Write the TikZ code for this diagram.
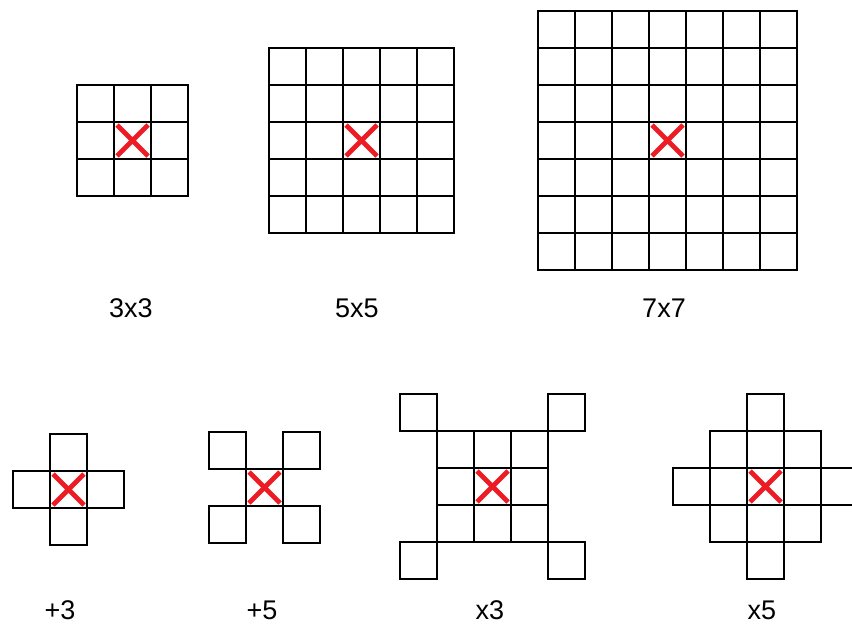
\documentclass[tikz,border=0pt]{standalone}
\usepackage{fontspec}
\setmainfont{Liberation Sans}
\definecolor{xred}{RGB}{237,28,36}
\tikzset{
  cellbox/.style={draw=black,line width=2pt},
  redx/.style={draw=xred,line width=4.8pt},
  lbl/.style={font=\fontsize{27}{31}\selectfont,inner sep=0pt,text=black}
}
\newcommand\gcel[2]{\draw[cellbox] (#1,#2) rectangle ++(37,37);}
\newcommand\rcross[2]{\draw[redx] (#1+3,#2+3) -- ++(31,31) (#1+34,#2+3) -- ++(-31,31);}
\begin{document}
\begin{tikzpicture}[x=1pt,y=-1pt]
\fill[white] (0,0) rectangle (852,626);
\useasboundingbox (0,0) rectangle (852,626);
% labels
\node[lbl] (l33) at (131,308) {3x3};
\node[lbl] (l55) at (357,308) {5x5};
\node[lbl] (l77) at (664,308) {7x7};
\node[lbl] (lp3) at (60,610) {+3};
\node[lbl] (lp5) at (262,610) {+5};
\node[lbl] (lx3) at (490,610) {x3};
\node[lbl] (lx5) at (762,610) {x5};
\clip (0,0) rectangle (852,626);
% 3x3
\foreach \i in {0,...,2} \foreach \j in {0,...,2} {\gcel{77+37*\i}{85+37*\j}}
\rcross{114}{122}
% 5x5
\foreach \i in {0,...,4} \foreach \j in {0,...,4} {\gcel{269+37*\i}{48+37*\j}}
\rcross{343}{122}
% 7x7
\foreach \i in {0,...,6} \foreach \j in {0,...,6} {\gcel{538+37*\i}{11+37*\j}}
\rcross{649}{122}
% +3
\foreach \a/\b in {0/0,-1/0,1/0,0/-1,0/1} {\gcel{50+37*\a}{471+37*\b}}
\rcross{50}{471}
% +5
\foreach \a/\b in {0/0,-1/-1,1/-1,-1/1,1/1} {\gcel{246+37*\a}{469+37*\b}}
\rcross{246}{469}
% x3
\foreach \i in {-1,...,1} \foreach \j in {-1,...,1} {\gcel{474+37*\i}{468+37*\j}}
\foreach \a/\b in {-2/-2,2/-2,-2/2,2/2} {\gcel{474+37*\a}{468+37*\b}}
\rcross{474}{468}
% x5
\foreach \a/\b in {0/-2,-1/-1,0/-1,1/-1,-2/0,-1/0,0/0,1/0,2/0,-1/1,0/1,1/1,0/2} {\gcel{747+37*\a}{468+37*\b}}
\rcross{747}{468}
\end{tikzpicture}
\end{document}
